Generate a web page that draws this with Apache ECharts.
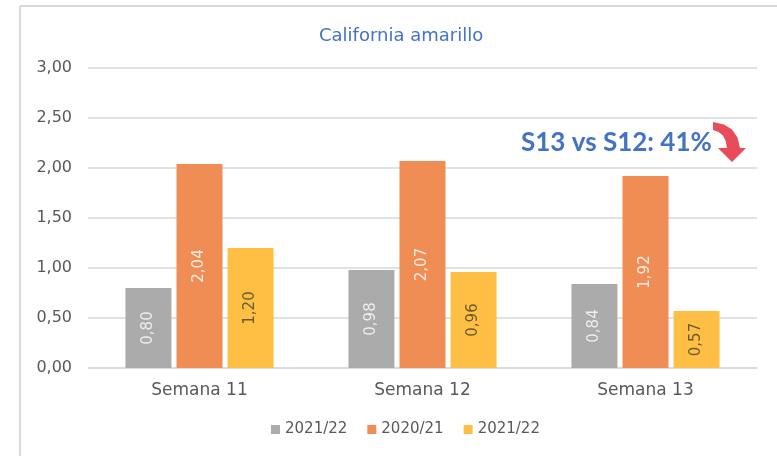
<!DOCTYPE html>
<html>
<head>
<meta charset="utf-8">
<script src="https://cdn.jsdelivr.net/npm/echarts@6/dist/echarts.min.js"></script>
<style>
  html, body { margin: 0; padding: 0; background: #fff; }
  #chart { width: 777px; height: 456px; }
</style>
</head>
<body>
<div id="chart"></div>
<script>
// datos
var semanas = ['Semana 11', 'Semana 12', 'Semana 13'];
var serie1 = [0.80, 0.98, 0.84];   // 2021/22 (gris)
var serie2 = [2.04, 2.07, 1.92];   // 2020/21
var serie3 = [1.20, 0.96, 0.57];   // 2021/22 (amarillo)
var nombres = ['2021/22', '2020/21', '2021/22 '];

var fuente = '"DejaVu Sans", "Noto Sans", sans-serif';

function etiqueta(color) {
  return {
    show: true,
    position: 'inside',
    rotate: 90,
    color: color,
    fontFamily: fuente,
    fontSize: 15,
    formatter: function (p) { return p.value.toFixed(2).replace('.', ','); }
  };
}

var myChart = echarts.init(document.getElementById('chart'));

var option = {
  animation: false,
  title: {
    text: 'California amarillo',
    left: 'center',
    top: 22,
    left: 314,
    textStyle: { color: '#4472C4', fontSize: 18, fontWeight: 'normal', fontFamily: fuente }
  },
  legend: {
    bottom: 14,
    left: 266,
    itemWidth: 9,
    itemHeight: 9,
    itemGap: 20,
    icon: 'rect',
    textStyle: { color: '#595959', fontSize: 15, fontFamily: fuente },
    data: nombres
  },
  grid: { left: 88, right: 20, top: 68, bottom: 88 },
  xAxis: {
    type: 'category',
    data: semanas,
    axisLine: { lineStyle: { color: '#D9D9D9', width: 1.5 } },
    axisTick: { show: false },
    axisLabel: { color: '#595959', fontSize: 17, fontFamily: fuente, margin: 14 }
  },
  yAxis: {
    type: 'value',
    min: 0,
    max: 3,
    interval: 0.5,
    axisLine: { show: false },
    axisTick: { show: false },
    splitLine: { lineStyle: { color: '#D9D9D9', width: 1.5 } },
    axisLabel: {
      color: '#595959', fontSize: 16, fontFamily: fuente, margin: 16,
      formatter: function (v) { return v.toFixed(2).replace('.', ','); }
    }
  },
  series: [{
    name: nombres[0],
    type: 'bar',
    data: serie1,
    barWidth: 46,
    barGap: '11%',
    itemStyle: { color: '#ABABAB' },
    label: etiqueta('#EDEDED')
  }, {
    name: nombres[1],
    type: 'bar',
    data: serie2,
    barWidth: 46,
    barGap: '11%',
    itemStyle: { color: '#F08D55' },
    label: etiqueta('#FBEDE4')
  }, {
    name: nombres[2],
    type: 'bar',
    data: serie3,
    barWidth: 46,
    barGap: '11%',
    itemStyle: { color: '#FFBF44' },
    label: etiqueta('#6B5A30')
  }],
  graphic: [{
    type: 'line',
    shape: { x1: 20, y1: 6, x2: 20, y2: 456 },
    style: { stroke: '#D9D9D9', lineWidth: 2 }
  }, {
    type: 'line',
    shape: { x1: 20, y1: 6, x2: 777, y2: 6 },
    style: { stroke: '#D9D9D9', lineWidth: 2 }
  }, {
    type: 'text',
    x: 521,
    y: 130,
    style: {
      text: 'S13 vs S12: 41%',
      fill: '#4472C4',
      font: 'bold 26px Lato, "Noto Sans", sans-serif'
    }
  }, {
    // flecha roja curva
    type: 'polygon',
    shape: {
      points: [
        [713, 122], [724, 124.4], [732, 129.5], [737.5, 137.4], [740, 148],
        [746, 148], [732, 162], [718, 148], [727, 148],
        [725.7, 140.9], [723, 135.5], [718.7, 131.9], [713, 130]
      ]
    },
    style: { fill: '#E84C5A' }
  }]
};

myChart.setOption(option);
</script>
</body>
</html>
